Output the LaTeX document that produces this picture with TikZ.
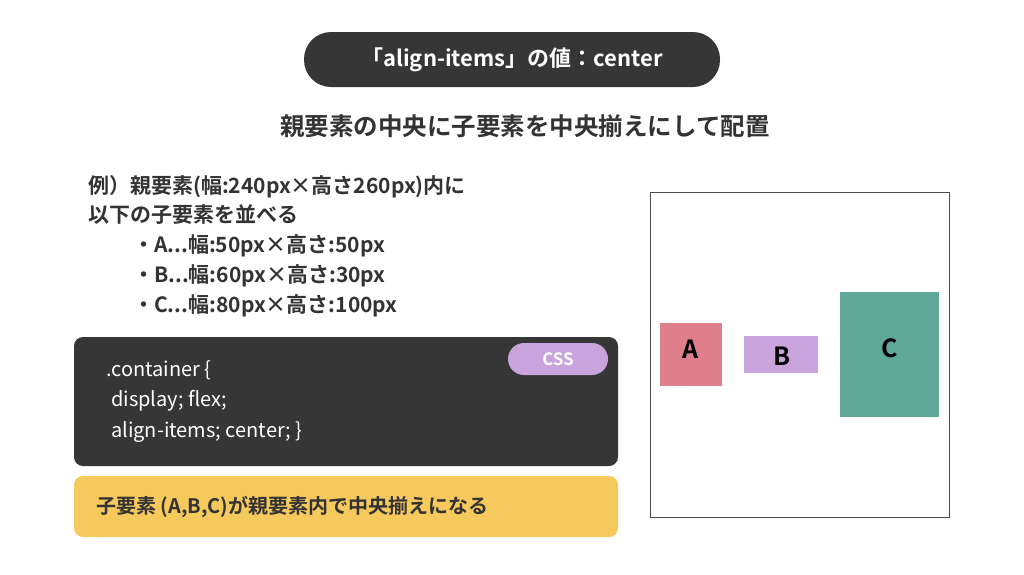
\documentclass[tikz,border=0pt]{standalone}
\usepackage{fontspec}
\setmainfont{Noto Sans CJK JP}[BoldFont={Noto Sans CJK JP Bold}]
\newfontfamily\jp{Noto Sans CJK JP}[BoldFont={Noto Sans CJK JP Bold}]
\definecolor{dark}{HTML}{363636}
\definecolor{txt}{HTML}{333333}
\definecolor{lav}{HTML}{C9A3DC}
\definecolor{yel}{HTML}{F5C95C}
\definecolor{pinkA}{HTML}{E07F8C}
\definecolor{tealC}{HTML}{5FA898}
\tikzset{
  pic/.style={x=1pt,y=-1pt},
  bodytext/.style={anchor=west,inner sep=0pt,font=\jp\bfseries\fontsize{21}{23}\selectfont,text=txt},
  codetext/.style={anchor=west,inner sep=0pt,font=\jp\fontsize{20}{22}\selectfont,text=white},
  itembox/.style={draw=none,inner sep=0pt},
  itemlabel/.style={font=\jp\bfseries\fontsize{25}{27}\selectfont,text=black}
}
\begin{document}
\begin{tikzpicture}[pic]
\useasboundingbox[fill=white] (0,0) rectangle (1024,574);
% title
\node (titlebg) [fill=dark,rounded corners=27pt,minimum width=416pt,minimum height=55pt,inner sep=0pt] at (512,59.5) {};
\node (title) [text=white,font=\jp\bfseries\fontsize{22}{24}\selectfont] at (titlebg.center) {「align-items」の値：center};
\node (sub) [text=txt,font=\jp\bfseries\fontsize{24.5}{26}\selectfont] at (525,126) {親要素の中央に子要素を中央揃えにして配置};
% explanation
\node (l1) [bodytext] at (88,187) {例）親要素(幅:240px×高さ260px)内に};
\node (l2) [bodytext] at (88,215) {以下の子要素を並べる};
\node (l3) [bodytext] at (133,246) {・A...幅:50px×高さ:50px};
\node (l4) [bodytext] at (133,276) {・B...幅:60px×高さ:30px};
\node (l5) [bodytext] at (133,306) {・C...幅:80px×高さ:100px};
% code box
\fill[dark,rounded corners=9pt] (74,337) rectangle (618,466);
\node (cssbg) [fill=lav,rounded corners=16pt,minimum width=100pt,minimum height=32pt,inner sep=0pt] at (558,359) {};
\node (css) [text=white,font=\jp\bfseries\fontsize{17}{19}\selectfont] at (cssbg.center) {CSS};
\node (c1) [codetext] at (106,370) {.container \{};
\node (c2) [codetext] at (111,401) {display; flex;};
\node (c3) [codetext] at (111,432) {align-items; center; \}};
% yellow box
\fill[yel,rounded corners=9pt] (74,476) rectangle (618,537);
\node (note) [bodytext,font=\jp\bfseries\fontsize{20}{22}\selectfont] at (96,507) {子要素 (A,B,C)が親要素内で中央揃えになる};
% container
\node (parent) [draw=dark!90,line width=1pt,minimum width=299pt,minimum height=325pt,inner sep=0pt] at (799.5,354.5) {};
\node (A) [itembox,fill=pinkA,minimum width=62pt,minimum height=63pt] at (691,354.5) {};
\node (B) [itembox,fill=lav,minimum width=74pt,minimum height=37pt] at (781,354.5) {};
\node (C) [itembox,fill=tealC,minimum width=99pt,minimum height=125pt] at (889.5,354.5) {};
\node (Al) [itemlabel] at (691,349) {A};
\node (Bl) [itemlabel] at (782,356) {B};
\node (Cl) [itemlabel] at (890,348) {C};
\end{tikzpicture}
\end{document}
